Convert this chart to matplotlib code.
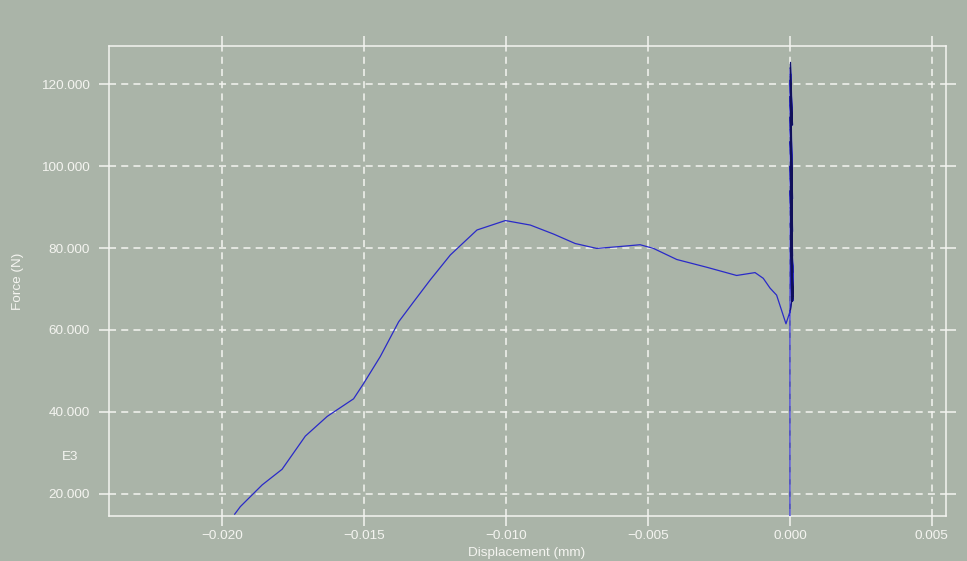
import numpy as np
from matplotlib import pyplot as plt

plt.rcParams['font.family'] = ['Liberation Sans', 'DejaVu Sans']

# displacement (mm) / force (N)
# loading leg and the dense unload/reload band near zero displacement
band_disp = [0.0, 0.0, 0.00002, 0.00009, 0.00001, 0.0001, 0.00002, 0.00009,
             0.00001, 0.0001, 0.00003, 0.00009, 0.00001, 0.0001, 0.00002,
             0.00009, 0.00001, 0.0001, 0.00002, 0.00008, 0.00001, 0.0001,
             0.00003, 0.00009, 0.00001, 0.0001, 0.00002, 0.00009, 0.00001,
             0.0001, 0.00002, 0.00008, 0.00002, 0.00009, 0.00002, 0.00006,
             0.00002]
band_force = [0.0, 62.0, 125.3, 110.0, 124.0, 67.5, 122.5, 92.0,
              121.0, 68.0, 119.0, 84.0, 117.0, 69.0, 115.0,
              78.0, 112.0, 67.2, 109.0, 88.0, 106.0, 70.0,
              103.0, 67.0, 100.0, 74.0, 97.0, 67.0, 94.0,
              69.0, 90.0, 67.0, 86.0, 67.5, 80.0, 66.9,
              64.9]
# softening leg going to negative displacement
tail_disp = [-0.00014, -0.00047, -0.0007, -0.00094, -0.00123, -0.00188, -0.00293,
             -0.00399, -0.00481, -0.00528, -0.0061, -0.00681, -0.00757, -0.00833,
             -0.00915, -0.01003, -0.01103, -0.01197, -0.01268, -0.01326, -0.01379,
             -0.01444, -0.01502, -0.01538, -0.01631, -0.01708, -0.0179, -0.0186,
             -0.01937, -0.01957]
tail_force = [61.5, 68.5, 70.2, 72.6, 74.0, 73.3, 75.3,
              77.2, 79.9, 80.8, 80.3, 79.9, 81.1, 83.4,
              85.6, 86.7, 84.4, 78.3, 72.2, 66.9, 62.0,
              53.5, 47.0, 43.2, 38.9, 34.1, 26.0, 22.2,
              16.9, 15.05]

xticks = [-0.020, -0.015, -0.010, -0.005, 0.000, 0.005]
yticks = [20, 40, 60, 80, 100, 120]

bg = '#aab4a8'
fg = '#f4f4f0'

fig = plt.figure(figsize=(9.67, 5.61), dpi=100, facecolor=bg)
ax = fig.add_axes([109/967, 45/561, 837/967, 470/561])
ax.set_facecolor(bg)

ax.plot(band_disp + tail_disp, band_force + tail_force, color='#2a2ac8', lw=0.9, zorder=3)
ax.plot(band_disp[2:], band_force[2:], color='#10105a', lw=0.6, zorder=4)

ax.set_xlim(-0.024, 0.0055)
ax.set_ylim(14.6, 129.3)
ax.set_xticks(xticks)
ax.set_xticklabels(['%.3f' % v if v >= 0 else '\u2212%.3f' % -v for v in xticks])
ax.set_yticks(yticks)
ax.set_yticklabels(['%.3f' % v for v in yticks])

ax.grid(True, color=fg, linestyle=(0, (4.6, 3.4)), linewidth=1.1, zorder=1)
for s in ax.spines.values():
    s.set_color(fg)
    s.set_linewidth(1.1)
ax.tick_params(axis='both', which='major', direction='out', length=7, width=1.1,
               color=fg, labelcolor=fg, labelsize=9.7,
               top=True, right=True, labeltop=False, labelright=False)
ax.tick_params(axis='y', pad=7)
ax.tick_params(axis='x', pad=3)

fig.text(18/967, 1 - 281/561, 'Force (N)', rotation=90, ha='center', va='center',
         color=fg, fontsize=9.7)
fig.text(70/967, 1 - 457/561, 'E3', ha='center', va='center', color=fg, fontsize=9.7)
fig.text(527/967, 1 - 553/561, 'Displacement (mm)', ha='center', va='center',
         color=fg, fontsize=9.7)

plt.savefig('out.png', dpi=100, facecolor=bg)
